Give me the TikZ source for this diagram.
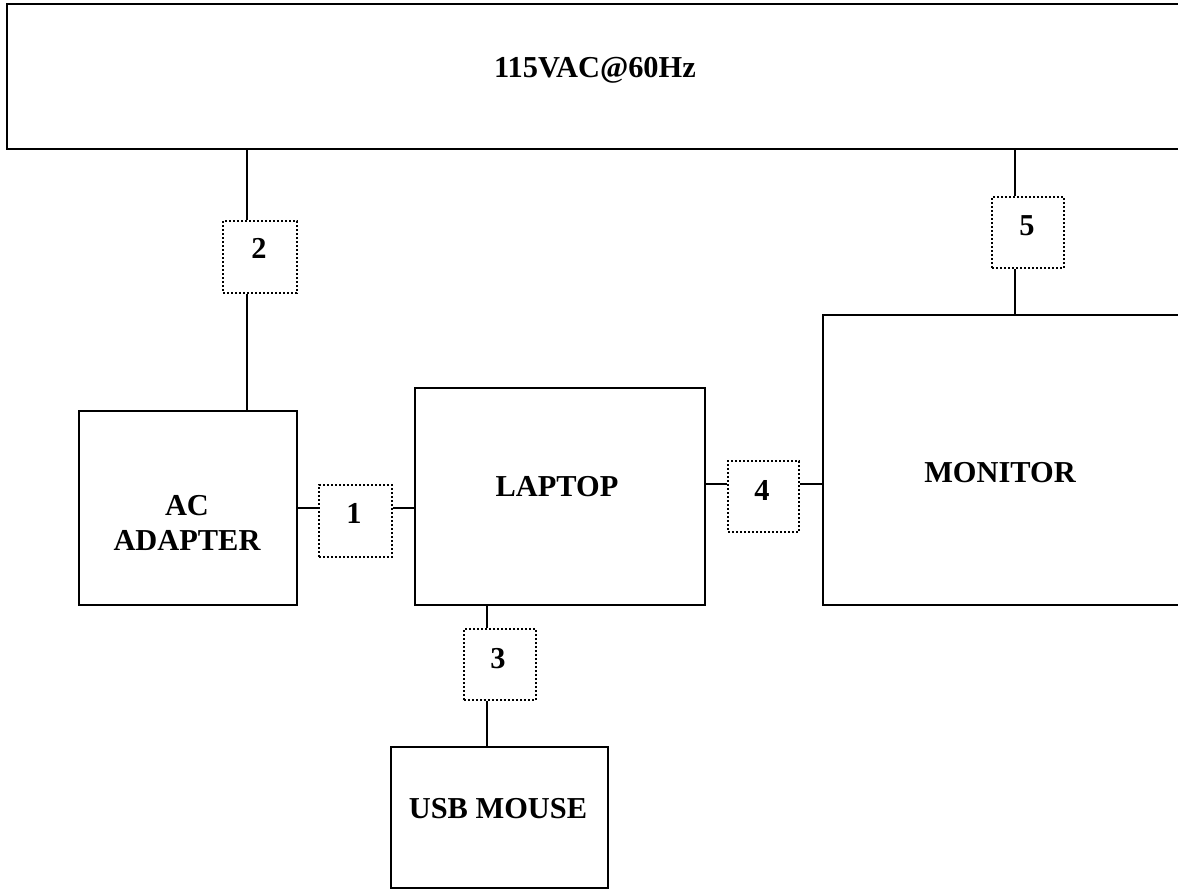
\documentclass[tikz,border=0pt]{standalone}
\usepackage{fontspec}
\setmainfont{Liberation Serif}
\begin{document}
\begin{tikzpicture}[x=0.5pt,y=-0.5pt,
  box/.style={draw,line width=1pt,inner sep=0pt},
  dbox/.style={draw,line width=1pt,dash pattern=on 1pt off 1pt,inner sep=0pt},
  lbl/.style={font=\fontsize{15.2}{17.4}\selectfont\bfseries,inner sep=0pt,align=center,anchor=base},
  wire/.style={line width=1pt}]
\clip (0,0) rectangle (1178,894);
\fill[white] (0,0) rectangle (1178,894);
% main blocks
\node[box,minimum width=596.5pt,minimum height=72.5pt] (top) at (603.5,76.5) {};
\node[box,minimum width=109pt,minimum height=97pt] (adapter) at (188,508) {};
\node[box,minimum width=145pt,minimum height=108.5pt] (laptop) at (560,496.5) {};
\node[box,minimum width=108.5pt,minimum height=70.5pt] (mouse) at (499.5,817.5) {};
\node[box,minimum width=188.5pt,minimum height=145pt] (monitor) at (1011.5,460) {};
% dotted connector boxes
\node[dbox,minimum width=36.5pt,minimum height=36pt] (b1) at (355.5,521) {};
\node[dbox,minimum width=37pt,minimum height=36pt] (b2) at (260,257) {};
\node[dbox,minimum width=36pt,minimum height=35.5pt] (b3) at (500,664.5) {};
\node[dbox,minimum width=35.5pt,minimum height=35.5pt] (b4) at (763.5,496.5) {};
\node[dbox,minimum width=36pt,minimum height=35.5pt] (b5) at (1028,232.5) {};
% labels
\node[lbl] (t0) at (595,77) {115VAC@60Hz};
\node[lbl] (tad) at (187,550) {AC\\ADAPTER};
\node[lbl] (tlap) at (557,496) {LAPTOP};
\node[lbl] (tmon) at (1000,482) {MONITOR};
\node[lbl] (tmou) at (498,818) {USB MOUSE};
\node[lbl] (n1) at (354,523) {1};
\node[lbl] (n2) at (259,258) {2};
\node[lbl] (n3) at (498,668) {3};
\node[lbl] (n4) at (762,500) {4};
\node[lbl] (n5) at (1027,235) {5};
% wire positions
\coordinate (x2) at (247,0);
\coordinate (x3) at (487,0);
\coordinate (x5) at (1015,0);
\coordinate (y1) at (0,508);
\coordinate (y4) at (0,484);
% wires
\draw[wire] (top.south -| x2) -- (b2.north -| x2);
\draw[wire] (b2.south -| x2) -- (adapter.north -| x2);
\draw[wire] (adapter.east |- y1) -- (b1.west |- y1);
\draw[wire] (b1.east |- y1) -- (laptop.west |- y1);
\draw[wire] (laptop.south -| x3) -- (b3.north -| x3);
\draw[wire] (b3.south -| x3) -- (mouse.north -| x3);
\draw[wire] (laptop.east |- y4) -- (b4.west |- y4);
\draw[wire] (b4.east |- y4) -- (monitor.west |- y4);
\draw[wire] (top.south -| x5) -- (b5.north -| x5);
\draw[wire] (b5.south -| x5) -- (monitor.north -| x5);
\end{tikzpicture}
\end{document}
